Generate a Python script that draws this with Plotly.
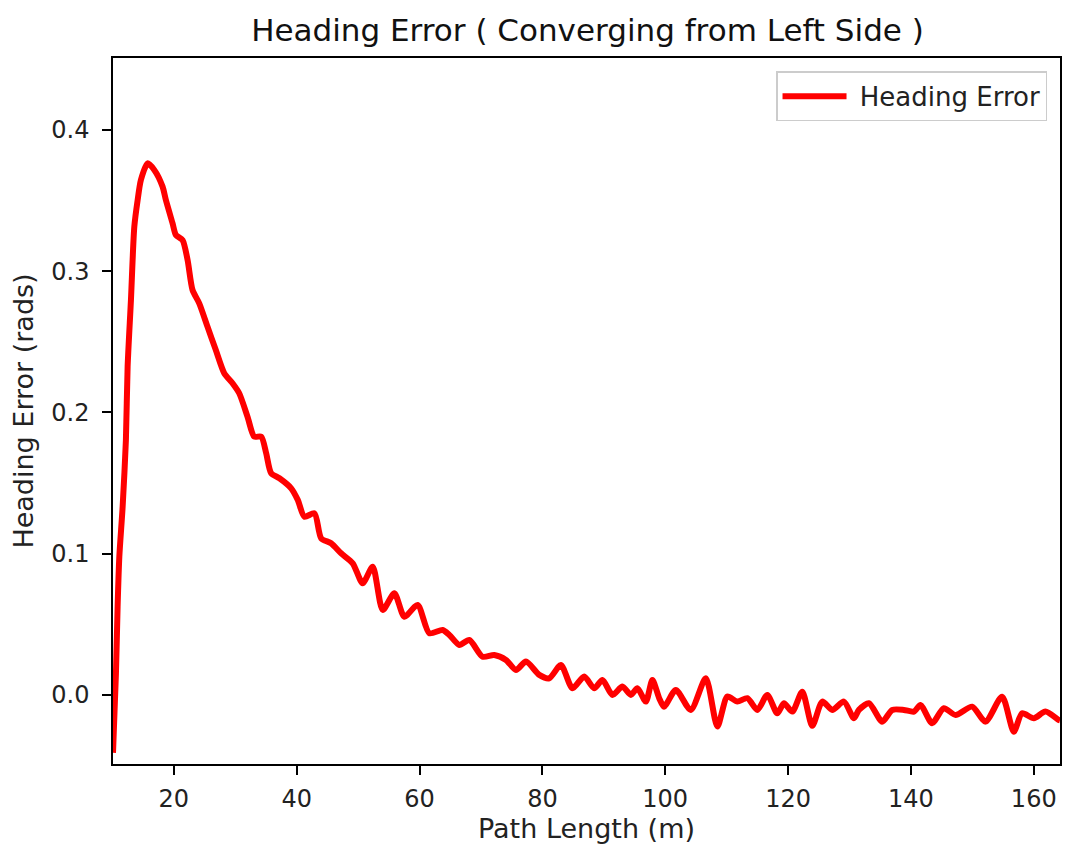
import plotly.graph_objects as go

# Path length along the trajectory (m)
path_length = [
    10.09, 10.57, 10.84, 11.12, 11.66, 12.19, 12.47, 13.01, 13.56,
    14.10, 14.63, 15.72, 16.81, 18.16, 18.70, 19.79, 20.33, 21.42, 22.23,
    23.04, 24.13, 25.48, 26.83, 28.20, 29.55, 30.64, 31.99, 33.08, 34.22,
    35.03, 35.84, 37.19, 39.10, 40.17, 41.26, 42.89, 43.98, 45.60, 47.23,
    49.12, 50.74, 52.37, 54.00, 55.90, 57.53, 59.69, 61.59, 63.76, 64.85,
    66.47, 68.10, 70.26, 72.17, 74.07, 75.70, 77.32, 79.49, 81.11, 83.01,
    84.90, 86.80, 88.43, 89.78, 91.41, 93.03, 94.40, 95.47, 96.84, 97.91,
    99.00, 99.81, 101.72, 104.16, 106.60, 108.49, 110.11, 111.74, 113.37, 114.99,
    116.62, 118.24, 119.33, 120.69, 122.31, 123.94, 125.57, 127.19, 129.09, 130.72,
    131.53, 133.16, 135.32, 136.95, 138.85, 140.48, 141.57, 143.45, 145.36, 147.26,
    149.96, 152.14, 154.84, 156.75, 158.10, 160.00, 161.90, 164.07, 164.27,
]

# Heading error (rad)
heading_error = [
    -0.0410, 0.0154, 0.0625, 0.0979, 0.1333, 0.1805, 0.2324, 0.2796, 0.3315,
    0.3504, 0.3646, 0.3764, 0.3717, 0.3599, 0.3504, 0.3339, 0.3257, 0.3221, 0.3080,
    0.2867, 0.2773, 0.2607, 0.2442, 0.2278, 0.2207, 0.2136, 0.1970, 0.1829, 0.1829,
    0.1711, 0.1570, 0.1534, 0.1463, 0.1381, 0.1262, 0.1286, 0.1109, 0.1074, 0.1003,
    0.0932, 0.0791, 0.0908, 0.0602, 0.0720, 0.0554, 0.0637, 0.0437, 0.0460, 0.0425,
    0.0354, 0.0389, 0.0271, 0.0283, 0.0248, 0.0177, 0.0236, 0.0142, 0.0118, 0.0212,
    0.0047, 0.0130, 0.0047, 0.0106, 0.0000, 0.0059, 0.0000, 0.0047, -0.0047, 0.0106,
    -0.0021, -0.0083, 0.0035, -0.0106, 0.0118, -0.0224, -0.0012, -0.0047, -0.0023, -0.0106,
    0.0000, -0.0130, -0.0059, -0.0118, 0.0023, -0.0219, -0.0047, -0.0106, -0.0047, -0.0165,
    -0.0106, -0.0059, -0.0189, -0.0106, -0.0106, -0.0118, -0.0071, -0.0200, -0.0094, -0.0142,
    -0.0083, -0.0189, -0.0012, -0.0260, -0.0130, -0.0165, -0.0118, -0.0177, -0.0180,
]

x_ticks = [20, 40, 60, 80, 100, 120, 140, 160]
y_ticks = [0.0, 0.1, 0.2, 0.3, 0.4]

FONT = "DejaVu Sans"
TEXT = "#222222"

fig = go.Figure()
fig.add_trace(go.Scatter(
    x=path_length,
    y=heading_error,
    mode="lines",
    # leading no-break space widens the gap between legend line and label
    name="\u00a0Heading Error",
    line=dict(color="#ff0000", width=6, shape="spline", smoothing=0.7),
))

axis_common = dict(
    showgrid=False,
    zeroline=False,
    showline=True,
    linecolor="black",
    linewidth=1.5,
    mirror=True,
    ticks="outside",
    ticklen=9,
    tickwidth=1.5,
    tickcolor="black",
    tickfont=dict(family=FONT, size=24, color=TEXT),
)

fig.update_layout(
    width=1067,
    height=850,
    paper_bgcolor="white",
    plot_bgcolor="white",
    margin=dict(l=113, r=5, t=58, b=86),
    font=dict(family=FONT, color=TEXT),
    title=dict(
        text="Heading Error ( Converging from Left Side )",
        x=(113 + (1067 - 113 - 5) / 2) / 1067,
        xanchor="center",
        y=1 - 30 / 850,
        yanchor="middle",
        font=dict(family=FONT, size=31, color="#111111"),
    ),
    xaxis=dict(
        axis_common,
        range=[10.09, 164.27],
        tickvals=x_ticks,
        ticktext=[str(v) for v in x_ticks],
        ticklabelstandoff=3,
        title=dict(text="Path Length (m)", font=dict(family=FONT, size=27, color=TEXT), standoff=6),
    ),
    yaxis=dict(
        axis_common,
        range=[-0.0489, 0.451],
        tickvals=y_ticks,
        ticktext=[f"{v:.1f}" for v in y_ticks],
        ticklabelstandoff=8,
        title=dict(text="Heading Error (rads)", font=dict(family=FONT, size=27, color=TEXT), standoff=10),
    ),
    showlegend=True,
    legend=dict(
        x=0.9863,
        y=0.981,
        xanchor="right",
        yanchor="top",
        bgcolor="rgba(255,255,255,0.8)",
        bordercolor="#cccccc",
        borderwidth=1.5,
        font=dict(family=FONT, size=26, color=TEXT),
        itemwidth=64,
    ),
)

fig.write_html("out.html")
